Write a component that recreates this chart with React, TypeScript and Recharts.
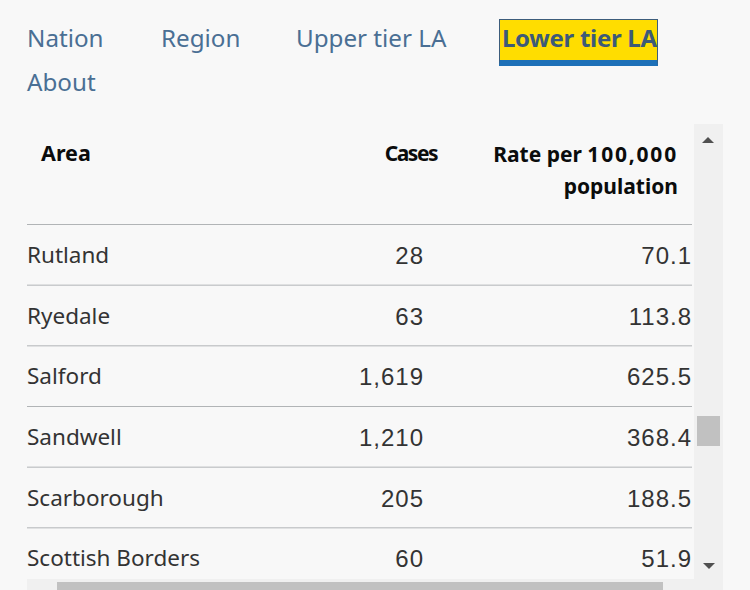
import React from 'react';
import { BarChart, Bar, XAxis, YAxis, LabelList } from 'recharts';

const areas = ['Rutland', 'Ryedale', 'Salford', 'Sandwell', 'Scarborough', 'Scottish Borders'];
const cases = [28, 63, 1619, 1210, 205, 60];
const rates = [70.1, 113.8, 625.5, 368.4, 188.5, 51.9];
const tabs = ['Nation', 'Region', 'Upper tier LA', 'Lower tier LA', 'About'];

const rows = areas.map((area, i) => ({ area, cases: cases[i], rate: rates[i] }));

const FONT = '"Noto Sans", sans-serif';
const NUM_FONT = '"Liberation Sans", Arial, sans-serif';
const TEXT = '#333';
const CASES_X = 397;
const RATE_X = 665;

// row separator drawn on top edge of each band
const RowLine = (props: any) => {
  const { x, y, width } = props;
  return <line x1={x} x2={x + width} y1={y + 0.5} y2={y + 0.5} stroke="#b1b4b6" strokeWidth={1} />;
};

const cellLabel = (key: 'area' | 'cases' | 'rate') => (props: any) => {
  const { y, height, index } = props;
  const row = rows[index];
  if (!row) return null;
  const cy = y + height / 2;
  if (key === 'area') {
    return (
      <text x={0} y={cy} textAnchor="start" dominantBaseline="central" fontFamily={FONT} fontSize={22.5} fill={TEXT}>
        {row.area}
      </text>
    );
  }
  const text = key === 'cases' ? row.cases.toLocaleString('en-GB') : row.rate.toFixed(1);
  const x = key === 'cases' ? CASES_X : RATE_X;
  return (
    <text x={x} y={cy + 1} textAnchor="end" dominantBaseline="central" fontFamily={NUM_FONT} fontSize={24} letterSpacing={1} fill={TEXT}>
      {text}
    </text>
  );
};

const tabPos = [
  { left: 27, top: 22 },
  { left: 161, top: 22 },
  { left: 296, top: 22 },
  { left: 503, top: 22 },
  { left: 27, top: 66 },
];

export default function App() {
  return (
    <div style={{ position: 'fixed', left: 0, top: 0, width: 750, height: 590, background: '#f8f8f8', overflow: 'hidden', fontFamily: FONT }}>
      {/* navigation tabs */}
      {tabs.map((t, i) => {
        if (i === 3) {
          return (
            <div
              key={t}
              style={{
                position: 'absolute', left: 499, top: 19, width: 159, height: 47,
                background: '#ffdd00', border: '1px solid #3d5d7c', boxSizing: 'border-box',
                borderBottom: '6px solid #1d70b8',
              }}
            >
              <span style={{ position: 'absolute', left: 2, top: 2, fontSize: 24, fontWeight: 700, color: '#3d5a78', letterSpacing: -0.3, lineHeight: '32px', whiteSpace: 'nowrap' }}>{t}</span>
            </div>
          );
        }
        return (
          <span
            key={t}
            style={{ position: 'absolute', left: tabPos[i].left, top: tabPos[i].top, fontSize: 24.2, color: '#4a6f94', lineHeight: '32px', whiteSpace: 'nowrap' }}
          >
            {t}
          </span>
        );
      })}

      {/* table header */}
      <div style={{ position: 'absolute', left: 41, top: 138, fontSize: 21.5, fontWeight: 700, color: '#0b0c0c', lineHeight: '30px' }}>Area</div>
      <div style={{ position: 'absolute', right: 750 - 437, top: 138, fontSize: 21, fontWeight: 700, color: '#0b0c0c', lineHeight: '30px', letterSpacing: -1.5 }}>Cases</div>
      <div style={{ position: 'absolute', right: 750 - 678, top: 138, fontSize: 21, fontWeight: 700, color: '#0b0c0c', lineHeight: '32px', textAlign: 'right', whiteSpace: 'nowrap' }}>
        Rate per <span style={{ letterSpacing: 1.8 }}>100,000</span><br />population
      </div>

      {/* table body */}
      <div style={{ position: 'absolute', left: 27, top: 224, width: 665, height: 355, overflow: 'hidden' }}>
        <BarChart
          width={665}
          height={364}
          data={rows}
          layout="vertical"
          margin={{ top: 0, right: 0, bottom: 0, left: 0 }}
          barCategoryGap={0}
        >
          <XAxis type="number" hide domain={[0, 'dataMax']} />
          <YAxis type="category" dataKey="area" hide width={0} />
          <Bar dataKey="rate" fill="none" background={<RowLine />} isAnimationActive={false}>
            <LabelList dataKey="area" content={cellLabel('area')} />
            <LabelList dataKey="cases" content={cellLabel('cases')} />
            <LabelList dataKey="rate" content={cellLabel('rate')} />
          </Bar>
        </BarChart>
      </div>

      {/* vertical scrollbar */}
      <div style={{ position: 'absolute', left: 694, top: 124, width: 29, height: 455, background: '#f0f0f0' }}>
        <div style={{ position: 'absolute', left: 8, top: 13, width: 0, height: 0, borderLeft: '6px solid transparent', borderRight: '6px solid transparent', borderBottom: '6px solid #505050' }} />
        <div style={{ position: 'absolute', left: 3, top: 292, width: 23, height: 30, background: '#c1c1c1' }} />
        <div style={{ position: 'absolute', left: 9, top: 439, width: 0, height: 0, borderLeft: '6px solid transparent', borderRight: '6px solid transparent', borderTop: '6px solid #505050' }} />
      </div>
      {/* horizontal scrollbar */}
      <div style={{ position: 'absolute', left: 27, top: 579, width: 696, height: 11, background: '#f0f0f0' }}>
        <div style={{ position: 'absolute', left: 30, top: 3, width: 606, height: 8, background: '#c1c1c1' }} />
      </div>
    </div>
  );
}
